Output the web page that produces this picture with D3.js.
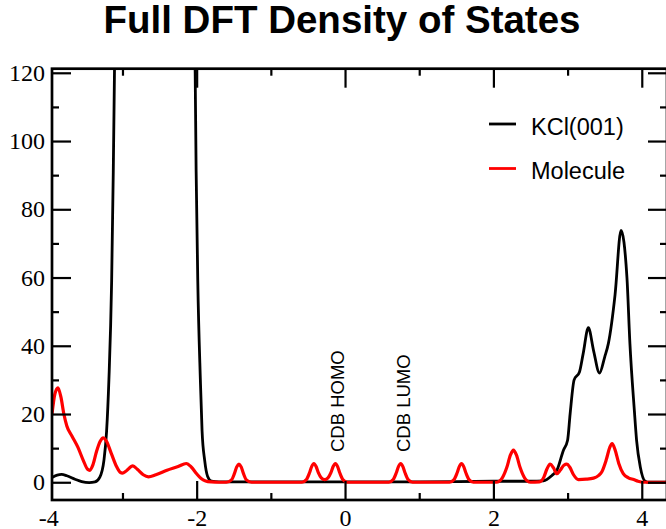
<!DOCTYPE html>
<html>
<head>
<meta charset="utf-8">
<script src="https://cdn.jsdelivr.net/npm/d3@7"></script>
<style>
  body { margin: 0; background: #fff; }
  svg { display: block; }
  .tick text { font-family: "Liberation Serif", "DejaVu Serif", "Times New Roman", serif; }
</style>
</head>
<body>
<svg id="mainSvg" width="666" height="529"></svg>
<script>
// energy (eV) / DOS pairs
var kclData = [
  [-3.95, 1.4], [-3.88, 2.1], [-3.82, 2.3], [-3.75, 1.9], [-3.64, 0.9], [-3.55, 0.2],
  [-3.45, -0.1], [-3.37, 0.1], [-3.305, 1.5], [-3.25, 6.4], [-3.214, 15], [-3.183, 30],
  [-3.146, 59], [-3.124, 91], [-3.108, 120], [-3.08, 170], [-3.0, 250], [-2.6, 300],
  [-2.2, 250], [-2.06, 170], [-2.02, 120], [-2.007, 91], [-1.985, 59], [-1.95, 30],
  [-1.927, 15], [-1.892, 6.4], [-1.852, 1.7], [-1.8, 0.3], [-1.7, 0.1], [-1.0, 0.1],
  [0, 0.1], [1.0, 0.1], [2.0, 0.3], [2.5, 0.3], [2.675, 0.4], [2.79, 2], [2.855, 3.5],
  [2.944, 9.4], [3.0, 12.3], [3.034, 20], [3.088, 30], [3.16, 32.3], [3.21, 37.7],
  [3.28, 45.3], [3.35, 38.6], [3.43, 32], [3.5, 36.7], [3.55, 40.7], [3.64, 55],
  [3.72, 73.8], [3.8, 60], [3.84, 40.7], [3.9, 21], [3.93, 12.3], [3.98, 4.5],
  [4.046, 0.3], [4.1, 0], [4.34, 0]
];

var moleculeData = [
  [-3.95, 20], [-3.91, 26], [-3.87, 27.7], [-3.83, 25], [-3.79, 20], [-3.75, 16.5],
  [-3.68, 13.5], [-3.6, 10.2], [-3.53, 6.5], [-3.47, 3.8], [-3.44, 3.5], [-3.4, 5],
  [-3.35, 9], [-3.3, 12], [-3.26, 13], [-3.22, 12.2], [-3.15, 8.4], [-3.08, 4.6],
  [-3.03, 2.9], [-3.0, 2.7], [-2.95, 3.3], [-2.86, 4.8], [-2.8, 3.8], [-2.72, 2.2],
  [-2.65, 1.6], [-2.55, 2.2], [-2.4, 3.5], [-2.25, 4.6], [-2.14, 5.5], [-2.07, 4.4],
  [-2.0, 2.5], [-1.94, 1.1], [-1.88, 0.4], [-1.8, 0.1], [-1.7, 0],
  [-1.6, 0], [-1.53, 0.7], [-1.49, 2.6], [-1.46, 4.5], [-1.43, 5.3], [-1.40, 4.5],
  [-1.37, 2.6], [-1.33, 0.7], [-1.26, 0],
  [-0.58, 0], [-0.52, 0.8], [-0.48, 2.7], [-0.45, 4.6], [-0.42, 5.5], [-0.39, 4.6],
  [-0.36, 2.8], [-0.32, 1.3], [-0.275, 0.8], [-0.23, 1.3], [-0.19, 2.8], [-0.16, 4.6],
  [-0.13, 5.5], [-0.10, 4.6], [-0.07, 2.7], [-0.03, 0.8], [0.03, 0],
  [0.59, 0], [0.65, 0.8], [0.69, 2.7], [0.72, 4.6], [0.75, 5.5], [0.78, 4.6],
  [0.81, 2.7], [0.85, 0.8], [0.91, 0],
  [1.41, 0], [1.47, 0.8], [1.51, 2.7], [1.54, 4.6], [1.57, 5.5], [1.60, 4.6],
  [1.63, 2.7], [1.67, 0.8], [1.73, 0],
  [2.04, 0], [2.12, 1.3], [2.18, 4.3], [2.23, 8.0], [2.27, 9.4], [2.31, 8.0],
  [2.36, 4.3], [2.42, 1.3], [2.5, 0],
  [2.62, 0.1], [2.68, 1.5], [2.72, 3.8], [2.765, 5.3], [2.81, 4.2], [2.855, 2.5],
  [2.9, 3.5], [2.95, 5], [2.99, 5.3], [3.03, 4.4], [3.08, 2.2], [3.146, 0.8],
  [3.25, 0.9], [3.35, 1.2], [3.42, 2], [3.46, 3], [3.52, 6.5], [3.57, 10.3],
  [3.6, 11.3], [3.64, 9.5], [3.69, 5.5], [3.75, 2.5], [3.82, 1.3], [3.89, 0.8],
  [3.95, 0.3], [4.02, 0], [4.34, 0]
];

var xMajor = [-4, -2, 0, 2, 4];
var xMinor = [-3, -1, 1, 3];
var yMajor = [0, 20, 40, 60, 80, 100, 120];
var yMinor = [10, 30, 50, 70, 90, 110];

var seriesNames = ["KCl(001)", "Molecule"];
var seriesColors = ["#000000", "#ff0000"];
var annotations = [
  { label: "CDB HOMO", at: -0.02 },
  { label: "CDB LUMO", at: 0.88 }
];

var plotLeft = 52, plotRight = 667, plotTop = 68.7, plotBottom = 500;

var svg = d3.select("#mainSvg");

var x = d3.scaleLinear().domain([-3.95, 4.34]).range([plotLeft, plotRight]);
var y = d3.scaleLinear().domain([-5.2, 121.2]).range([plotBottom, plotTop]);

var plainNum = function(d) { return String(d); };

// title
svg.append("text")
  .attr("x", 342)
  .attr("y", 33)
  .attr("text-anchor", "middle")
  .style("font-family", "'Liberation Sans', Arial, sans-serif")
  .style("font-weight", "bold")
  .style("font-size", "38.5px")
  .text("Full DFT Density of States");

svg.append("clipPath").attr("id", "plotClip")
  .append("rect")
  .attr("x", plotLeft).attr("y", plotTop)
  .attr("width", plotRight - plotLeft).attr("height", plotBottom - plotTop);

// curves
var line = d3.line()
  .x(function(d) { return x(d[0]); })
  .y(function(d) { return y(d[1]); })
  .curve(d3.curveMonotoneX);

var curves = svg.append("g").attr("clip-path", "url(#plotClip)");
curves.append("path")
  .datum(kclData)
  .attr("fill", "none")
  .attr("stroke", seriesColors[0])
  .attr("stroke-width", 2.8)
  .attr("d", line);
curves.append("path")
  .datum(moleculeData)
  .attr("fill", "none")
  .attr("stroke", seriesColors[1])
  .attr("stroke-width", 3.2)
  .attr("d", line);

// axes: major + minor ticks, pointing inward, on all four sides
function styleAxis(g) {
  g.attr("font-family", null);
  g.select(".domain").remove();
  g.selectAll(".tick line").attr("stroke", "#000").attr("stroke-width", 2.2);
  g.selectAll(".tick text")
    .attr("font-family", "Liberation Serif, DejaVu Serif, serif")
    .style("font-size", "24px")
    .attr("fill", "#000");
}

svg.append("g").attr("transform", "translate(0," + plotBottom + ")")
  .call(d3.axisBottom(x).tickValues(xMajor).tickSize(-19).tickPadding(8.5).tickFormat(plainNum))
  .call(styleAxis)
  .call(function(g) {
    g.selectAll(".tick line").filter(function(d) { return x(d) < plotLeft; }).remove();
  });
svg.append("g").attr("transform", "translate(0," + plotBottom + ")")
  .call(d3.axisBottom(x).tickValues(xMinor).tickSize(-7).tickFormat(""))
  .call(styleAxis);
svg.append("g").attr("transform", "translate(0," + plotTop + ")")
  .call(d3.axisTop(x).tickValues(xMajor.filter(function(d) { return x(d) > plotLeft; }))
    .tickSize(-19).tickFormat(""))
  .call(styleAxis);
svg.append("g").attr("transform", "translate(0," + plotTop + ")")
  .call(d3.axisTop(x).tickValues(xMinor).tickSize(-7).tickFormat(""))
  .call(styleAxis);

svg.append("g").attr("transform", "translate(" + plotLeft + ",0)")
  .call(d3.axisLeft(y).tickValues(yMajor).tickSize(-19).tickPadding(7).tickFormat(plainNum))
  .call(styleAxis);
svg.append("g").attr("transform", "translate(" + plotLeft + ",0)")
  .call(d3.axisLeft(y).tickValues(yMinor).tickSize(-7).tickFormat(""))
  .call(styleAxis);
svg.append("g").attr("transform", "translate(" + plotRight + ",0)")
  .call(d3.axisRight(y).tickValues(yMajor).tickSize(-19).tickFormat(""))
  .call(styleAxis);
svg.append("g").attr("transform", "translate(" + plotRight + ",0)")
  .call(d3.axisRight(y).tickValues(yMinor).tickSize(-7).tickFormat(""))
  .call(styleAxis);

// frame
svg.append("rect")
  .attr("x", plotLeft).attr("y", plotTop)
  .attr("width", plotRight - plotLeft).attr("height", plotBottom - plotTop)
  .attr("fill", "none")
  .attr("stroke", "#000")
  .attr("stroke-width", 2.7);

// legend
var legend = svg.append("g").attr("class", "legend");
seriesNames.forEach(function(name, i) {
  var ly = 124 + i * 44.5;
  legend.append("line")
    .attr("x1", 489).attr("x2", 516)
    .attr("y1", ly).attr("y2", ly)
    .attr("stroke", seriesColors[i])
    .attr("stroke-width", 2.8);
  legend.append("text")
    .attr("x", 531).attr("y", ly + 10.5)
    .style("font-family", "'Liberation Sans', Arial, sans-serif")
    .style("font-size", "23.5px")
    .text(name);
});

// level labels
annotations.forEach(function(a) {
  var ax = x(a.at), ay = 452;
  svg.append("text")
    .attr("transform", "translate(" + ax + "," + ay + ") rotate(-90)")
    .attr("text-anchor", "start")
    .style("font-family", "'Liberation Sans', Arial, sans-serif")
    .style("font-size", "18.5px")
    .text(a.label);
});
</script>
</body>
</html>
